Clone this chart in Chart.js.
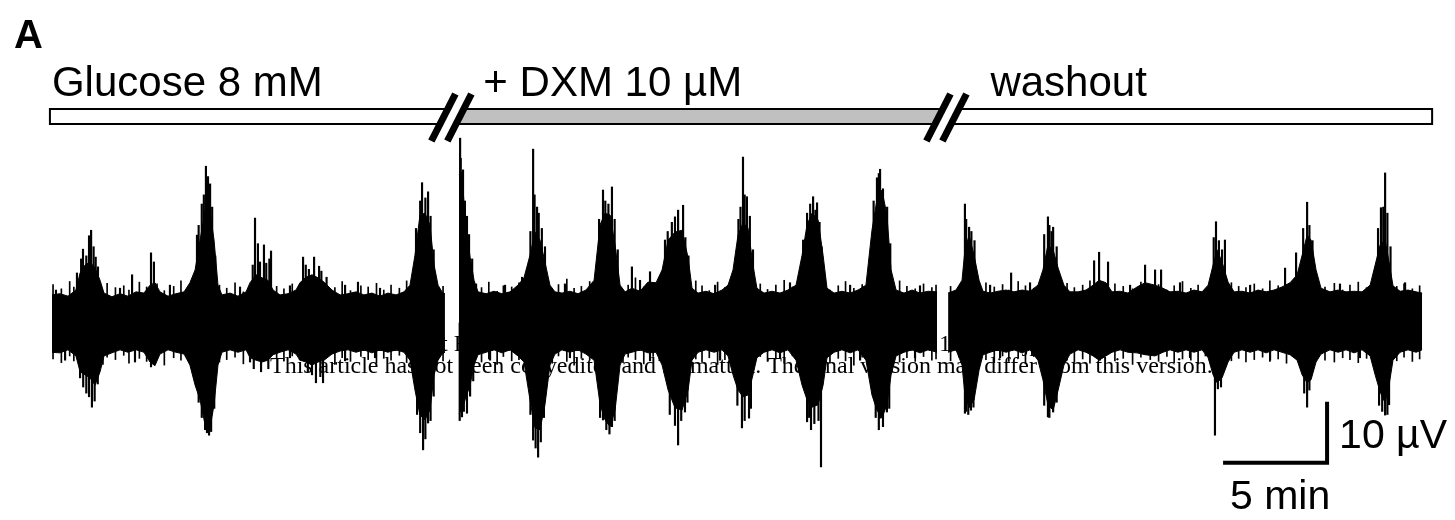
<!DOCTYPE html>
<html>
<head>
<meta charset="utf-8">
<script src="https://cdn.jsdelivr.net/npm/chart.js"></script>
<style>
  html, body { margin: 0; padding: 0; background: #fff; }
  #wrap { width: 1455px; height: 520px; position: relative; }
</style>
</head>
<body>
<div id="wrap"><canvas id="myChart"></canvas></div>
<script>
// time in minutes from start of trace, amplitude in microvolts
var periodLabels = ['Glucose 8 mM', '+ DXM 10 µM', 'washout'];
var periodStart = [-0.1, 19.2, 43.0];
var periodEnd = [19.2, 43.0, 66.35];

// envelope of the dense recording band (null = break in the recording)
var envTime = [
  0, 0.38, 0.77, 1.15, 1.35, 1.59, 1.83, 2.07, 2.31, 2.5, 2.88, 3.27, 3.65, 4.04, 4.42, 4.71, 4.95, 5.19, 5.58, 5.96,
  6.35, 6.63, 6.88, 7.12, 7.36, 7.6, 7.79, 7.98, 8.17, 8.56, 8.94, 9.33, 9.52, 9.81, 10.1, 10.38, 10.63, 10.96, 11.35, 11.73,
  11.92, 12.21, 12.5, 12.79, 13.08, 13.46, 13.85, 14.23, 14.62, 15.0, 15.38, 15.77, 16.15, 16.54, 16.92, 17.21, 17.45, 17.69, 17.93, 18.17,
  18.37, 18.56, 18.75, 18.89,
  19.2,
  19.57, 19.71, 19.86, 20.1, 20.29, 20.48, 20.87, 21.25, 21.63, 22.02, 22.4, 22.69, 22.98, 23.22, 23.46, 23.7, 23.94, 24.18, 24.52, 24.9,
  25.29, 25.67, 26.06, 26.35, 26.59, 26.83, 27.07, 27.31, 27.55, 27.88, 28.27, 28.65, 29.04, 29.33, 29.62, 29.95, 30.29, 30.58, 30.77, 31.06,
  31.44, 31.83, 32.21, 32.5, 32.74, 32.98, 33.22, 33.46, 33.7, 33.89, 34.23, 34.62, 35.0, 35.38, 35.77, 36.06, 36.3, 36.54, 36.83, 37.07,
  37.26, 37.6, 37.98, 38.37, 38.75, 39.13, 39.42, 39.66, 39.9, 40.14, 40.34, 40.58, 40.96, 41.35, 41.73, 42.12, 42.55,
  42.8,
  43.08, 43.46, 43.75, 43.89, 44.09, 44.33, 44.57, 44.76, 45.1, 45.48, 45.87, 46.25, 46.63, 47.02, 47.4, 47.64, 47.88, 48.13, 48.37, 48.65,
  48.94, 49.33, 49.71, 50.05, 50.34, 50.67, 50.96, 51.35, 51.73, 52.16, 52.55, 53.03, 53.41, 53.75, 54.13, 54.52, 54.9, 55.29, 55.58, 55.82,
  56.01, 56.25, 56.54, 56.83, 57.21, 57.6, 57.98, 58.37, 58.75, 59.13, 59.52, 59.86, 60.1, 60.34, 60.53, 60.77, 61.01, 61.44, 61.83, 62.21,
  62.6, 62.98, 63.37, 63.61, 63.85, 64.09, 64.28, 64.47, 64.81, 65.19, 65.58, 65.87
];
var envUpper = [
  4.6, 4.8, 4.4, 5.4, 8.2, 9.5, 10.0, 9.0, 7.0, 4.9, 4.3, 4.8, 4.4, 5.1, 4.9, 6.2, 6.6, 5.1, 4.4, 4.8,
  5.1, 6.6, 8.7, 13.6, 18.5, 18.2, 13.6, 6.2, 4.6, 4.9, 4.4, 5.1, 6.6, 7.9, 7.4, 7.0, 5.4, 4.6, 4.8, 5.4,
  6.6, 7.5, 7.9, 7.4, 6.7, 5.4, 4.6, 4.8, 5.1, 4.6, 4.9, 4.4, 4.9, 4.6, 5.1, 6.2, 11.1, 17.7, 18.0, 16.1,
  9.5, 6.2, 5.1, 4.8,
  null,
  24.3, 24.8, 16.9, 10.8, 7.0, 5.1, 4.8, 5.2, 4.8, 5.1, 6.2, 7.4, 11.1, 14.9, 13.6, 10.0, 6.2, 5.1, 4.9, 5.2,
  4.8, 5.4, 7.0, 16.1, 18.0, 17.7, 12.8, 6.2, 5.1, 5.7, 5.2, 6.7, 6.6, 8.7, 13.6, 14.9, 15.2, 10.7, 5.7, 4.9,
  5.2, 4.8, 5.4, 6.2, 8.7, 14.4, 16.4, 15.6, 9.5, 5.7, 4.9, 5.2, 4.9, 5.4, 6.2, 11.1, 16.1, 18.0, 16.9, 11.1,
  5.7, 4.9, 5.2, 4.9, 5.4, 6.2, 15.2, 20.2, 21.8, 17.7, 8.7, 5.4, 4.9, 5.4, 4.9, 5.2, 5.1,
  null,
  4.9, 5.4, 7.0, 12.0, 14.4, 11.1, 7.0, 5.2, 4.9, 5.2, 5.4, 5.1, 5.4, 5.2, 6.2, 8.7, 12.8, 12.0, 9.0, 6.2,
  5.1, 5.1, 5.4, 6.2, 7.0, 6.6, 5.1, 5.2, 4.9, 5.9, 6.6, 6.2, 5.7, 5.1, 5.2, 4.9, 5.4, 5.1, 6.2, 9.5,
  12.0, 10.0, 6.7, 5.1, 5.2, 4.9, 5.4, 5.1, 5.4, 5.9, 6.6, 7.9, 11.1, 14.4, 13.6, 8.7, 5.7, 5.1, 5.4, 5.1,
  5.2, 5.1, 6.2, 9.5, 12.8, 13.6, 10.0, 6.1, 5.2, 5.4, 5.1, 4.9
];
var envLower = [
  -4.8, -4.9, -4.4, -5.4, -8.0, -8.5, -9.0, -10.2, -8.0, -5.4, -4.9, -4.4, -4.8, -4.4, -4.8, -6.4, -7.0, -5.1, -4.4, -4.8,
  -5.1, -6.9, -10.2, -12.6, -16.7, -17.2, -13.4, -6.9, -4.8, -4.4, -4.8, -4.4, -5.7, -6.1, -6.4, -6.1, -5.2, -4.8, -4.4, -5.1,
  -6.1, -6.4, -6.9, -6.4, -6.1, -5.1, -4.6, -4.4, -4.8, -4.4, -4.9, -4.4, -4.8, -4.4, -4.8, -6.1, -11.0, -15.1, -15.9, -14.3,
  -8.5, -6.1, -5.1, -4.8,
  null,
  -14.8, -14.3, -12.6, -10.2, -6.9, -5.2, -4.8, -4.4, -4.9, -4.4, -5.4, -6.4, -12.6, -17.2, -17.5, -13.4, -6.9, -5.1, -4.4, -4.8,
  -4.4, -5.1, -6.1, -13.4, -15.9, -17.0, -14.3, -6.9, -5.1, -4.8, -4.4, -4.9, -4.8, -6.9, -11.0, -13.9, -14.3, -11.0, -6.1, -4.8,
  -4.4, -4.8, -4.4, -5.4, -8.5, -11.0, -12.1, -11.8, -8.5, -5.7, -4.8, -4.4, -4.9, -4.4, -6.1, -10.2, -12.6, -13.8, -13.4, -10.2,
  -5.7, -4.8, -4.4, -4.9, -4.4, -6.1, -11.8, -14.3, -15.6, -13.4, -8.5, -5.4, -4.8, -4.4, -4.9, -4.4, -4.8,
  null,
  -4.8, -4.4, -6.9, -11.8, -13.9, -12.6, -7.7, -5.2, -4.8, -4.4, -4.8, -4.4, -4.9, -4.4, -6.1, -9.3, -13.4, -14.3, -11.0, -6.9,
  -5.1, -4.4, -4.8, -5.4, -6.1, -5.4, -4.8, -4.4, -4.8, -4.9, -5.2, -5.4, -4.8, -4.4, -4.8, -4.4, -4.8, -4.4, -5.7, -8.5,
  -9.8, -9.0, -6.4, -4.8, -4.4, -4.8, -4.4, -4.9, -4.4, -4.8, -5.2, -6.1, -8.5, -9.8, -9.3, -6.4, -5.1, -4.4, -4.8, -4.4,
  -4.9, -4.4, -5.4, -8.5, -11.3, -13.1, -10.2, -6.1, -4.8, -4.4, -4.8, -4.4
];

// single tall spikes sticking out of the band
var upTime = [
  0.19, 1.2, 1.49, 1.78, 1.88, 2.21, 3.27, 3.85, 4.76, 4.9, 5.67, 6.97, 7.4, 7.6, 9.04, 9.76, 10.0, 10.19, 10.53, 11.44,
  12.07, 12.6, 12.84, 14.09, 14.71, 15.77, 17.6, 17.79, 18.08, 19.62, 19.76, 21.78, 22.6, 23.13, 23.32, 24.66, 26.49, 26.92, 27.88, 28.27,
  28.75, 29.47, 29.95, 30.34, 31.88, 33.22, 33.41, 35.48, 36.11, 36.59, 36.78, 38.37, 39.66, 39.81, 40.05, 41.73, 43.89, 44.09, 45.1, 46.11,
  47.02, 47.88, 48.13, 50.1, 50.34, 50.77, 51.83, 52.55, 53.03, 53.32, 54.23, 55.96, 56.39, 57.6, 59.28, 59.81, 60.34, 61.92, 63.89, 64.09,
  65.05
];
var upPeak = [
  5.4, 8.2, 12.1, 14.3, 15.2, 9.2, 5.7, 7.9, 11.5, 10.0, 6.2, 14.4, 25.7, 22.8, 5.9, 17.2, 10.0, 12.8, 11.8, 6.1,
  10.8, 10.8, 9.3, 6.2, 6.7, 5.7, 12.3, 23.0, 21.5, 30.3, 25.1, 6.2, 7.5, 28.5, 19.0, 6.4, 21.8, 22.3, 9.2, 7.0,
  8.4, 13.6, 17.4, 19.3, 6.2, 27.2, 20.7, 6.6, 13.6, 20.7, 19.7, 6.2, 23.8, 25.2, 18.5, 6.1, 19.5, 15.7, 6.2, 8.2,
  6.6, 17.4, 15.7, 10.2, 11.6, 10.0, 6.2, 9.5, 8.7, 8.7, 6.6, 16.6, 13.6, 6.2, 9.0, 11.5, 19.8, 6.4, 18.9, 24.6,
  6.6
];
var downTime = [
  0.63, 1.35, 1.78, 1.92, 3.99, 4.76, 6.97, 7.36, 7.55, 9.52, 11.44, 12.69, 13.03, 14.09, 15.53, 17.84, 18.08, 19.71, 19.95, 21.06,
  23.13, 23.37, 24.9, 26.49, 26.92, 28.75, 30.1, 30.43, 32.12, 33.17, 33.51, 35.0, 36.3, 36.49, 36.97, 38.85, 39.81, 40.14, 41.49, 43.89,
  44.18, 45.58, 47.88, 48.13, 50.38, 54.71, 55.91, 58.56, 60.34, 62.88, 64.09, 64.28
];
var downPeak = [
  -6.1, -9.0, -12.1, -13.8, -6.4, -7.2, -9.8, -17.5, -18.4, -6.4, -5.7, -9.8, -9.8, -6.2, -5.7, -20.8, -16.4, -15.4, -14.8, -6.1,
  -19.2, -22.0, -5.7, -15.9, -17.0, -6.2, -20.0, -14.6, -6.1, -17.2, -15.6, -5.7, -16.2, -17.5, -23.6, -6.1, -15.6, -14.6, -5.7, -14.8,
  -14.3, -5.7, -15.4, -14.6, -6.1, -5.7, -18.4, -6.1, -13.8, -5.7, -15.1, -13.4
];

// denser spikes inside each burst
var burstUpTime = [
  1.4, 1.65, 2.0, 2.1, 7.05, 7.2, 7.3, 7.5, 7.7, 7.85, 9.65, 9.9, 10.3, 10.45, 12.2, 12.35, 12.95, 13.2, 17.5, 17.7,
  17.95, 18.2, 18.35, 19.65, 19.85, 19.95, 20.05, 20.2, 23.0, 23.2, 23.4, 23.55, 23.7, 26.3, 26.6, 26.75, 27.05, 27.2, 29.6, 29.8,
  30.1, 30.45, 30.6, 33.0, 33.1, 33.3, 33.55, 33.7, 36.3, 36.45, 36.7, 36.9, 37.0, 39.5, 39.75, 39.95, 40.15, 40.3, 43.95, 44.2,
  44.35, 47.7, 47.95, 48.05, 48.3, 55.85, 56.1, 56.25, 60.15, 60.45, 60.6, 63.75, 64.0, 64.2, 64.35
];
var burstUpPeak = [
  10.5, 11.0, 12.5, 10.8, 16.0, 19.5, 21.0, 24.0, 19.0, 11.0, 9.5, 13.0, 9.8, 10.5, 9.5, 8.8, 8.5, 7.5, 15.5, 20.0,
  20.5, 17.5, 12.0, 27.0, 20.0, 17.5, 14.5, 10.5, 15.0, 21.0, 18.0, 15.5, 12.5, 17.0, 20.0, 19.5, 17.0, 12.0, 15.0, 16.5,
  18.5, 14.0, 11.0, 17.0, 19.0, 21.0, 17.5, 12.0, 18.0, 19.5, 18.5, 16.5, 12.5, 20.0, 24.5, 22.0, 19.0, 13.0, 17.0, 15.0,
  13.5, 14.5, 16.0, 15.0, 12.5, 14.0, 13.5, 12.0, 15.5, 16.0, 13.5, 15.5, 19.0, 18.0, 12.5
];
var burstDownTime = [
  1.5, 1.65, 2.05, 2.2, 7.05, 7.2, 7.45, 7.65, 7.8, 9.7, 10.05, 10.4, 12.3, 12.5, 12.9, 17.55, 17.7, 17.95, 18.2, 18.35,
  19.6, 19.8, 20.1, 20.25, 23.0, 23.25, 23.5, 23.65, 26.35, 26.65, 26.8, 27.05, 29.7, 29.95, 30.25, 30.55, 32.95, 33.3, 33.6, 36.4,
  36.65, 36.85, 39.6, 39.75, 39.95, 40.25, 43.95, 44.05, 44.3, 47.7, 47.95, 48.3, 56.05, 56.2, 60.2, 60.45, 63.8, 63.95, 64.2
];
var burstDownPeak = [
  -10.5, -11.5, -12.8, -10.0, -13.0, -15.5, -18.0, -17.8, -14.0, -7.5, -8.0, -7.5, -8.0, -8.5, -8.8, -15.0, -18.0, -19.0, -16.0, -12.0,
  -16.0, -14.5, -12.0, -9.5, -15.0, -20.5, -19.5, -15.5, -15.5, -17.5, -18.2, -16.0, -15.0, -16.8, -16.0, -13.0, -13.5, -16.0, -14.0, -15.5,
  -16.5, -16.0, -15.5, -17.5, -17.0, -14.0, -14.5, -15.0, -13.8, -13.5, -15.5, -13.0, -10.8, -10.5, -11.5, -11.0, -13.5, -14.5, -15.0
];

// small noise spikes along the edges of the band
var fringeTime = [
  0.05, 0.45, 0.85, 1.05, 2.45, 2.65, 3.05, 3.45, 3.7, 4.2, 4.55, 5.05, 5.4, 5.85, 6.2, 6.5, 8.05, 8.4, 8.8, 9.2,
  10.8, 11.15, 11.55, 13.6, 13.95, 14.35, 14.85, 15.2, 15.6, 15.95, 16.3, 16.7, 17.05, 18.5, 18.8,
  20.4, 20.65, 21.0, 21.4, 21.7, 22.1, 22.45, 24.05, 24.35, 24.75, 25.1, 25.45, 25.85, 27.45, 27.7, 28.05, 28.45, 28.9, 29.2, 30.95,
  31.25, 31.6, 32.0, 32.35, 34.05, 34.4, 34.8, 35.2, 35.6, 35.9, 37.4, 37.8, 38.15, 38.55, 38.95, 39.25, 40.75, 41.1, 41.5, 41.9,
  42.3, 42.5,
  43.2, 43.6, 44.9, 45.3, 45.7, 46.0, 46.45, 46.8, 47.2, 48.8, 49.15, 49.55, 49.9, 50.55, 51.1, 51.5, 51.95, 52.35, 52.8, 53.2,
  53.6, 53.95, 54.35, 54.75, 55.1, 55.45, 56.7, 57.05, 57.4, 57.8, 58.2, 58.55, 58.95, 59.35, 59.65, 61.2, 61.65, 62.05, 62.4, 62.8,
  63.2, 64.65, 65.0, 65.4, 65.75
];
var fringeUp = [
  6.3, 5.6, 6.8, 5.9, 5.2, 6.5, 5.8, 6.1, 5.4, 6.7, 5.9, 6.4, 5.3, 6.0, 6.9, 5.5, 6.2, 5.7, 6.6, 5.1,
  6.0, 5.6, 6.4, 5.8, 6.8, 5.3, 6.1, 5.9, 6.5, 5.4, 6.2, 5.7, 6.9, 5.5, 6.0,
  6.4, 5.8, 6.7, 5.2, 6.1, 5.9, 6.6, 5.5, 6.3, 7.2, 5.7, 6.0, 6.8, 5.4, 6.2, 7.4, 5.9, 6.5, 5.6, 6.9,
  6.1, 5.3, 6.7, 5.8, 6.4, 5.5, 6.2, 7.0, 5.9, 6.6, 5.4, 6.1, 6.8, 5.7, 6.3, 5.5, 6.9, 6.0, 5.6, 6.4,
  5.8, 6.2,
  6.0, 5.5, 6.6, 5.9, 6.3, 5.4, 6.8, 6.1, 5.7, 6.5, 5.8, 6.2, 6.9, 5.5, 6.4, 6.0, 5.6, 6.7, 5.9, 6.3,
  5.4, 6.1, 6.8, 5.7, 6.2, 5.5, 6.6, 6.0, 5.8, 6.4, 5.6, 6.9, 6.1, 5.7, 6.3, 5.9, 6.5, 5.4, 6.2, 6.7,
  5.8, 6.0, 6.4, 5.6, 6.1
];
var fringeDown = [
  -5.9, -6.5, -5.4, -6.2, -6.8, -5.6, -6.0, -5.3, -6.6, -5.8, -6.3, -5.5, -6.9, -5.7, -6.1, -5.2, -6.4, -6.0, -5.6, -6.7,
  -5.9, -6.2, -5.4, -6.8, -5.7, -6.3, -5.5, -6.0, -6.6, -5.8, -6.1, -5.3, -6.5, -5.9, -6.2,
  -5.7, -6.4, -5.9, -6.8, -5.5, -6.2, -6.0, -6.6, -5.4, -6.3, -6.9, -5.8, -6.1, -6.5, -5.6, -6.0, -6.7, -5.5, -6.2, -5.9,
  -6.4, -5.7, -6.8, -6.0, -5.5, -6.3, -5.9, -6.6, -5.4, -6.1, -6.5, -5.8, -6.2, -6.9, -5.6, -6.0, -6.4, -5.7, -6.3, -5.5,
  -6.1, -5.9,
  -6.2, -5.6, -6.0, -6.5, -5.4, -6.3, -5.8, -6.7, -5.5, -6.1, -6.4, -5.9, -6.6, -5.3, -6.2, -5.8, -6.8, -5.6, -6.0, -6.3,
  -5.5, -6.5, -5.9, -6.1, -6.7, -5.4, -6.2, -5.8, -6.4, -6.0, -5.6, -6.3, -5.9, -6.6, -5.5, -6.1, -6.4, -5.7, -6.0, -6.5,
  -5.8, -6.2, -5.6, -6.3, -5.9
];

// calibration bar: 5 min x 10 µV
var scaleBarTime = [56.3, 61.3, 61.3];
var scaleBarValue = [-22.9, -22.9, -12.9];

function pts(xs, ys) {
  return xs.map(function(x, i) { return { x: x, y: ys[i] }; });
}

function spikes(xs, ys, w) {
  return {
    type: 'bar',
    data: pts(xs, ys),
    backgroundColor: '#000',
    barThickness: w,
    grouped: false
  };
}

var decor = {
  id: 'decor',
  beforeDraw: function(chart) {
    // journal watermark sits underneath the trace
    var c = chart.ctx;
    c.save();
    c.fillStyle = '#000';
    c.textBaseline = 'alphabetic';
    c.textAlign = 'left';
    c.font = '22px "Liberation Serif"';
    var line2 = 'This article has not been copyedited and formatted. The final version may differ from this version.';
    var w = c.measureText(line2).width;
    var fs = 22 * 943 / w;
    c.font = fs.toFixed(2) + 'px "Liberation Serif"';
    c.fillText(line2, 270, 373);
    c.fillText('JPET Fast Forward. Published on', 441 - c.measureText('JPET Fas').width, 351);
    c.fillText('as DOI: 10.1124/jpet', 939 - c.measureText('as DOI: ').width, 351);
    c.restore();
  },
  afterDraw: function(chart) {
    var c = chart.ctx;
    var xs = chart.scales.x;
    c.save();
    c.fillStyle = '#000';
    c.textBaseline = 'alphabetic';
    c.textAlign = 'left';
    c.font = 'bold 40px "Liberation Sans"';
    c.fillText('A', 14, 48);

    // treatment bars
    var labelOffset = [2, 32, 44];
    c.font = '42px "Liberation Sans"';
    for (var i = 0; i < periodLabels.length; i++) {
      var x0 = xs.getPixelForValue(periodStart[i]);
      var x1 = xs.getPixelForValue(periodEnd[i]);
      c.fillStyle = i === 1 ? '#c0c0c0' : '#fff';
      c.fillRect(x0, 109, x1 - x0, 15);
      c.lineWidth = 2;
      c.strokeStyle = '#000';
      c.strokeRect(x0, 109, x1 - x0, 15);
      c.fillStyle = '#000';
      c.fillText(periodLabels[i], x0 + labelOffset[i], 96);
    }
    // break marks between periods
    for (var j = 1; j < periodStart.length; j++) {
      var bx = xs.getPixelForValue(periodStart[j]);
      c.lineCap = 'butt';
      c.strokeStyle = '#fff';
      c.lineWidth = 12;
      c.beginPath();
      c.moveTo(bx - 10, 134);
      c.lineTo(bx + 10, 98);
      c.stroke();
      c.strokeStyle = '#000';
      c.lineWidth = 7;
      [-8, 8].forEach(function(o) {
        c.beginPath();
        c.moveTo(bx + o - 12, 141);
        c.lineTo(bx + o + 12, 94);
        c.stroke();
      });
    }

    // calibration labels
    var ys = chart.scales.y;
    var cx = xs.getPixelForValue(scaleBarTime[1]);
    var cy = ys.getPixelForValue(scaleBarValue[1]);
    var hx = xs.getPixelForValue(scaleBarTime[0]);
    c.font = '41px "Liberation Sans"';
    c.fillText('10 µV', cx + 12, cy - 15);
    c.textAlign = 'center';
    c.fillText('5 min', (hx + cx) / 2 + 5, cy + 46);
    c.restore();
  }
};

var ctx = document.getElementById('myChart').getContext('2d');
var chart = new Chart(ctx, {
  type: 'line',
  data: {
    datasets: [
      spikes(upTime, upPeak, 1.5),
      spikes(downTime, downPeak, 1.5),
      spikes(burstUpTime, burstUpPeak, 1.5),
      spikes(burstDownTime, burstDownPeak, 1.5),
      spikes(fringeTime, fringeUp, 1),
      spikes(fringeTime, fringeDown, 1),
      {
        data: pts(envTime, envUpper),
        fill: 'origin',
        backgroundColor: '#000',
        borderColor: '#000',
        borderWidth: 1,
        pointRadius: 0,
        spanGaps: false
      },
      {
        data: pts(envTime, envLower),
        fill: 'origin',
        backgroundColor: '#000',
        borderColor: '#000',
        borderWidth: 1,
        pointRadius: 0,
        spanGaps: false
      },
      {
        data: pts(scaleBarTime, scaleBarValue),
        borderColor: '#000',
        borderWidth: 4,
        borderCapStyle: 'butt',
        borderJoinStyle: 'miter',
        pointRadius: 0,
        fill: false
      }
    ]
  },
  options: {
    responsive: true,
    maintainAspectRatio: false,
    animation: false,
    events: [],
    layout: { padding: 0 },
    plugins: { legend: { display: false }, tooltip: { enabled: false } },
    elements: { line: { tension: 0 } },
    scales: {
      x: { type: 'linear', min: -2.5, max: 67.45, display: false, offset: false },
      y: { type: 'linear', min: -32.3, max: 52.95, display: false }
    }
  },
  plugins: [decor]
});
</script>
</body>
</html>
